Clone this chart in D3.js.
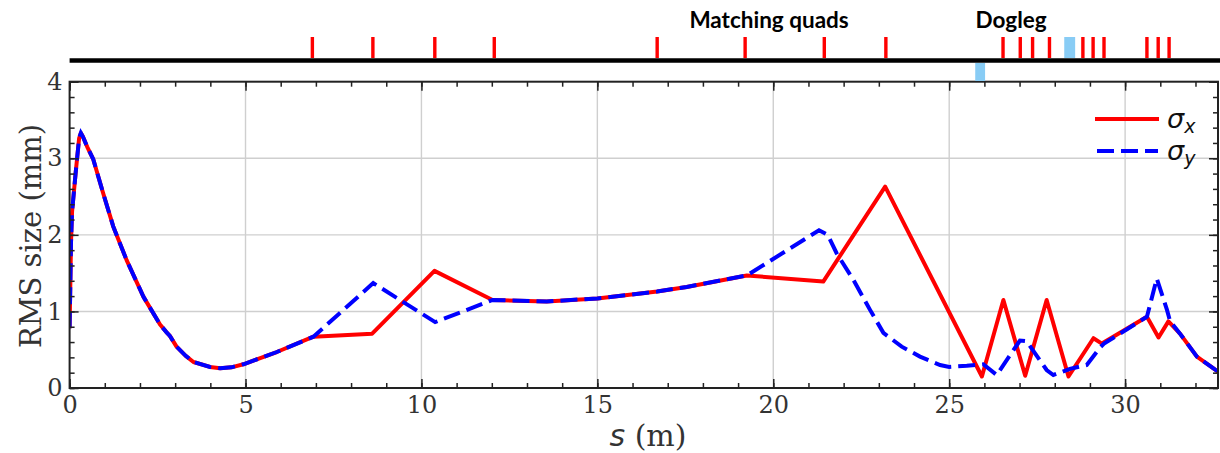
<!DOCTYPE html>
<html>
<head>
<meta charset="utf-8">
<script src="https://cdn.jsdelivr.net/npm/d3@7"></script>
<style>
  html, body { margin: 0; padding: 0; background: #fff; }
  svg { display: block; }
</style>
</head>
<body>
<svg id="chart" width="1220" height="453"></svg>
<script>
// RMS beam size along the beamline, s in metres, size in mm
const sigmaXS = [0, 0.04, 0.07, 0.17, 0.27, 0.32, 0.38, 0.5, 0.67, 0.95, 1.24, 1.62, 2.1, 2.57, 2.75, 2.85, 3.04, 3.3, 3.52, 3.99, 4.28, 4.6, 4.94, 5.89, 6.93,
  8.6, 10.37, 12.02, 13.56, 15.0, 16.7, 17.54, 19.25, 21.42, 23.18, 25.93, 26.54, 27.16, 27.77, 28.39, 29.1, 29.34, 30.62, 30.95, 31.23, 31.56, 32.04, 32.5, 32.65];
const sigmaX = [0.78, 1.9, 2.3, 2.8, 3.26, 3.33, 3.28, 3.15, 2.99, 2.55, 2.11, 1.67, 1.19, 0.83, 0.73, 0.68, 0.54, 0.42, 0.34, 0.275, 0.257, 0.27, 0.31, 0.47, 0.67,
  0.71, 1.53, 1.15, 1.13, 1.17, 1.26, 1.32, 1.47, 1.39, 2.63, 0.15, 1.15, 0.16, 1.15, 0.15, 0.65, 0.58, 0.93, 0.66, 0.87, 0.71, 0.41, 0.26, 0.21];

const sigmaYS = [0, 0.04, 0.07, 0.17, 0.27, 0.32, 0.38, 0.5, 0.67, 0.95, 1.24, 1.62, 2.1, 2.57, 2.75, 2.85, 3.04, 3.3, 3.52, 3.99, 4.28, 4.6, 4.94, 5.89, 6.93,
  8.63, 10.39, 12.02, 13.56, 15.0, 16.7, 17.54, 19.25, 21.3, 21.55, 21.8, 22.28, 22.75, 23.13, 23.65, 24.17, 24.74, 25.0, 25.5, 25.97, 26.35, 27.01, 27.2,
  27.77, 27.96, 28.43, 28.91, 29.29, 29.4, 30.62, 30.9, 31.19, 31.28, 31.56, 32.04, 32.5, 32.65];
const sigmaY = [0.78, 1.9, 2.3, 2.8, 3.26, 3.33, 3.28, 3.15, 2.99, 2.55, 2.11, 1.67, 1.19, 0.83, 0.73, 0.68, 0.54, 0.42, 0.34, 0.275, 0.257, 0.27, 0.31, 0.47, 0.67,
  1.37, 0.86, 1.15, 1.13, 1.17, 1.26, 1.32, 1.47, 2.06, 2.0, 1.76, 1.41, 1.02, 0.72, 0.54, 0.41, 0.30, 0.275, 0.29, 0.31, 0.17, 0.62, 0.61,
  0.235, 0.17, 0.25, 0.30, 0.53, 0.58, 0.93, 1.43, 1.02, 0.87, 0.71, 0.41, 0.26, 0.21];

// lattice: quadrupole centres and dipole extents (m)
const quadS = [6.9, 8.62, 10.38, 12.07, 16.7, 19.2, 21.45, 23.2, 26.53, 27.02, 27.37, 27.85, 28.8, 29.09, 29.4, 30.62, 30.94, 31.25];
const dipoleUpper = [[28.27, 28.58]];
const dipoleLower = [[25.74, 26.02]];
const sectionLabels = ["Matching quads", "Dogleg"];
const sectionLabelS = [19.88, 26.76];

const xMajor = [0, 5, 10, 15, 20, 25, 30];
const xMinor = d3.range(0, 33, 1);
const yMajor = [0, 1, 2, 3, 4];
const yMinor = d3.range(0, 4.01, 0.2);
const seriesNames = ["x", "y"];

const svg = d3.select("#chart");
const W = 1220, H = 453;
const plot = { left: 69.6, right: 1218, top: 81.7, bottom: 388 };

const x = d3.scaleLinear().domain([0, 32.64]).range([plot.left, plot.right]);
const y = d3.scaleLinear().domain([0, 4]).range([plot.bottom, plot.top]);

const serif = "'DejaVu Serif', serif";
const textCol = "#333";

// grid
const grid = svg.append("g").attr("stroke", "#cfcfcf").attr("stroke-width", 1.4);
grid.selectAll("line.gx").data(xMajor.filter(d => d > 0)).join("line")
  .attr("x1", d => x(d)).attr("x2", d => x(d)).attr("y1", plot.top).attr("y2", plot.bottom);
grid.selectAll("line.gy").data(yMajor.filter(d => d > 0 && d < 4)).join("line")
  .attr("x1", plot.left).attr("x2", plot.right).attr("y1", d => y(d)).attr("y2", d => y(d));

// curves
svg.append("defs").append("clipPath").attr("id", "clip")
  .append("rect").attr("x", plot.left).attr("y", plot.top)
  .attr("width", plot.right - plot.left).attr("height", plot.bottom - plot.top);

const line = d3.line().x(d => x(d[0])).y(d => y(d[1])).curve(d3.curveLinear);
const curves = svg.append("g").attr("clip-path", "url(#clip)");
curves.append("path").datum(d3.zip(sigmaXS, sigmaX))
  .attr("d", line).attr("fill", "none").attr("stroke", "#ff0000")
  .attr("stroke-width", 4).attr("stroke-linejoin", "round");
curves.append("path").datum(d3.zip(sigmaYS, sigmaY))
  .attr("d", line).attr("fill", "none").attr("stroke", "#0000ff")
  .attr("stroke-width", 4).attr("stroke-dasharray", "17,7");

// axes with inward ticks on all four sides
function styleAxis(g) {
  g.select(".domain").remove();
  g.selectAll(".tick line").attr("stroke", "#222").attr("stroke-width", 1.5);
  g.selectAll(".tick text").attr("fill", textCol).style("font-family", serif).style("font-size", "24px");
}
svg.append("g").attr("transform", `translate(0,${plot.bottom})`)
  .call(d3.axisBottom(x).tickValues(xMinor).tickSize(-5).tickFormat("")).call(styleAxis);
svg.append("g").attr("transform", `translate(0,${plot.bottom})`)
  .call(d3.axisBottom(x).tickValues(xMajor).tickSize(-9).tickPadding(8).tickFormat(d3.format("d"))).call(styleAxis);
svg.append("g").attr("transform", `translate(0,${plot.top})`)
  .call(d3.axisTop(x).tickValues(xMinor).tickSize(-5).tickFormat("")).call(styleAxis);
svg.append("g").attr("transform", `translate(0,${plot.top})`)
  .call(d3.axisTop(x).tickValues(xMajor).tickSize(-9).tickFormat("")).call(styleAxis);
svg.append("g").attr("transform", `translate(${plot.left},0)`)
  .call(d3.axisLeft(y).tickValues(yMinor).tickSize(-5).tickFormat("")).call(styleAxis);
svg.append("g").attr("transform", `translate(${plot.left},0)`)
  .call(d3.axisLeft(y).tickValues(yMajor).tickSize(-9).tickPadding(7).tickFormat(d3.format("d"))).call(styleAxis);
svg.append("g").attr("transform", `translate(${plot.right},0)`)
  .call(d3.axisRight(y).tickValues(yMinor).tickSize(-5).tickFormat("")).call(styleAxis);
svg.append("g").attr("transform", `translate(${plot.right},0)`)
  .call(d3.axisRight(y).tickValues(yMajor).tickSize(-9).tickFormat("")).call(styleAxis);

// frame
svg.append("rect").attr("x", plot.left).attr("y", plot.top)
  .attr("width", plot.right - plot.left).attr("height", plot.bottom - plot.top)
  .attr("fill", "none").attr("stroke", "#222").attr("stroke-width", 2);

// axis titles
svg.append("text").attr("transform", `translate(41,236) rotate(-90)`)
  .attr("text-anchor", "middle").attr("fill", textCol)
  .style("font-family", serif).style("font-size", "29px").text("RMS size (mm)");
const xt = svg.append("text").attr("x", 648).attr("y", 446).attr("text-anchor", "middle")
  .attr("fill", textCol).style("font-size", "30px");
xt.append("tspan").style("font-family", "'DejaVu Sans', sans-serif").style("font-style", "italic").text("s");
xt.append("tspan").style("font-family", serif).text(" (m)");

// legend
const legend = svg.append("g");
legend.append("line").attr("x1", 1095).attr("x2", 1159).attr("y1", 119).attr("y2", 119)
  .attr("stroke", "#ff0000").attr("stroke-width", 4);
legend.append("line").attr("x1", 1097).attr("x2", 1158).attr("y1", 151).attr("y2", 151)
  .attr("stroke", "#0000ff").attr("stroke-width", 4).attr("stroke-dasharray", "17,7");
seriesNames.forEach((n, i) => {
  const t = legend.append("text").attr("x", 1167).attr("y", 128 + i * 32)
    .attr("fill", "#111").style("font-family", "'DejaVu Sans', sans-serif").style("font-style", "italic");
  t.append("tspan").style("font-size", "27px").text("σ");
  t.append("tspan").attr("dy", 5).style("font-size", "19px").text(n);
});

// lattice strip
const lat = svg.append("g");
lat.append("line").attr("x1", plot.left).attr("x2", W).attr("y1", 60.5).attr("y2", 60.5)
  .attr("stroke", "#000").attr("stroke-width", 4.5);
lat.selectAll("rect.q").data(quadS).join("rect").attr("class", "q")
  .attr("x", d => x(d) - 1.7).attr("width", 3.4).attr("y", 37).attr("height", 21)
  .attr("fill", "#ff0000");
lat.selectAll("rect.du").data(dipoleUpper).join("rect")
  .attr("x", d => x(d[0])).attr("width", d => x(d[1]) - x(d[0])).attr("y", 37).attr("height", 21)
  .attr("fill", "#88ccf5");
lat.selectAll("rect.dl").data(dipoleLower).join("rect")
  .attr("x", d => x(d[0])).attr("width", d => x(d[1]) - x(d[0])).attr("y", 63).attr("height", 18)
  .attr("fill", "#88ccf5");
lat.selectAll("text").data(sectionLabels).join("text")
  .attr("x", (d, i) => x(sectionLabelS[i])).attr("y", 28).attr("text-anchor", "middle")
  .attr("fill", "#000").style("font-family", "Lato, sans-serif").style("font-weight", "700")
  .style("font-size", "22.5px").text(d => d);
</script>
</body>
</html>
